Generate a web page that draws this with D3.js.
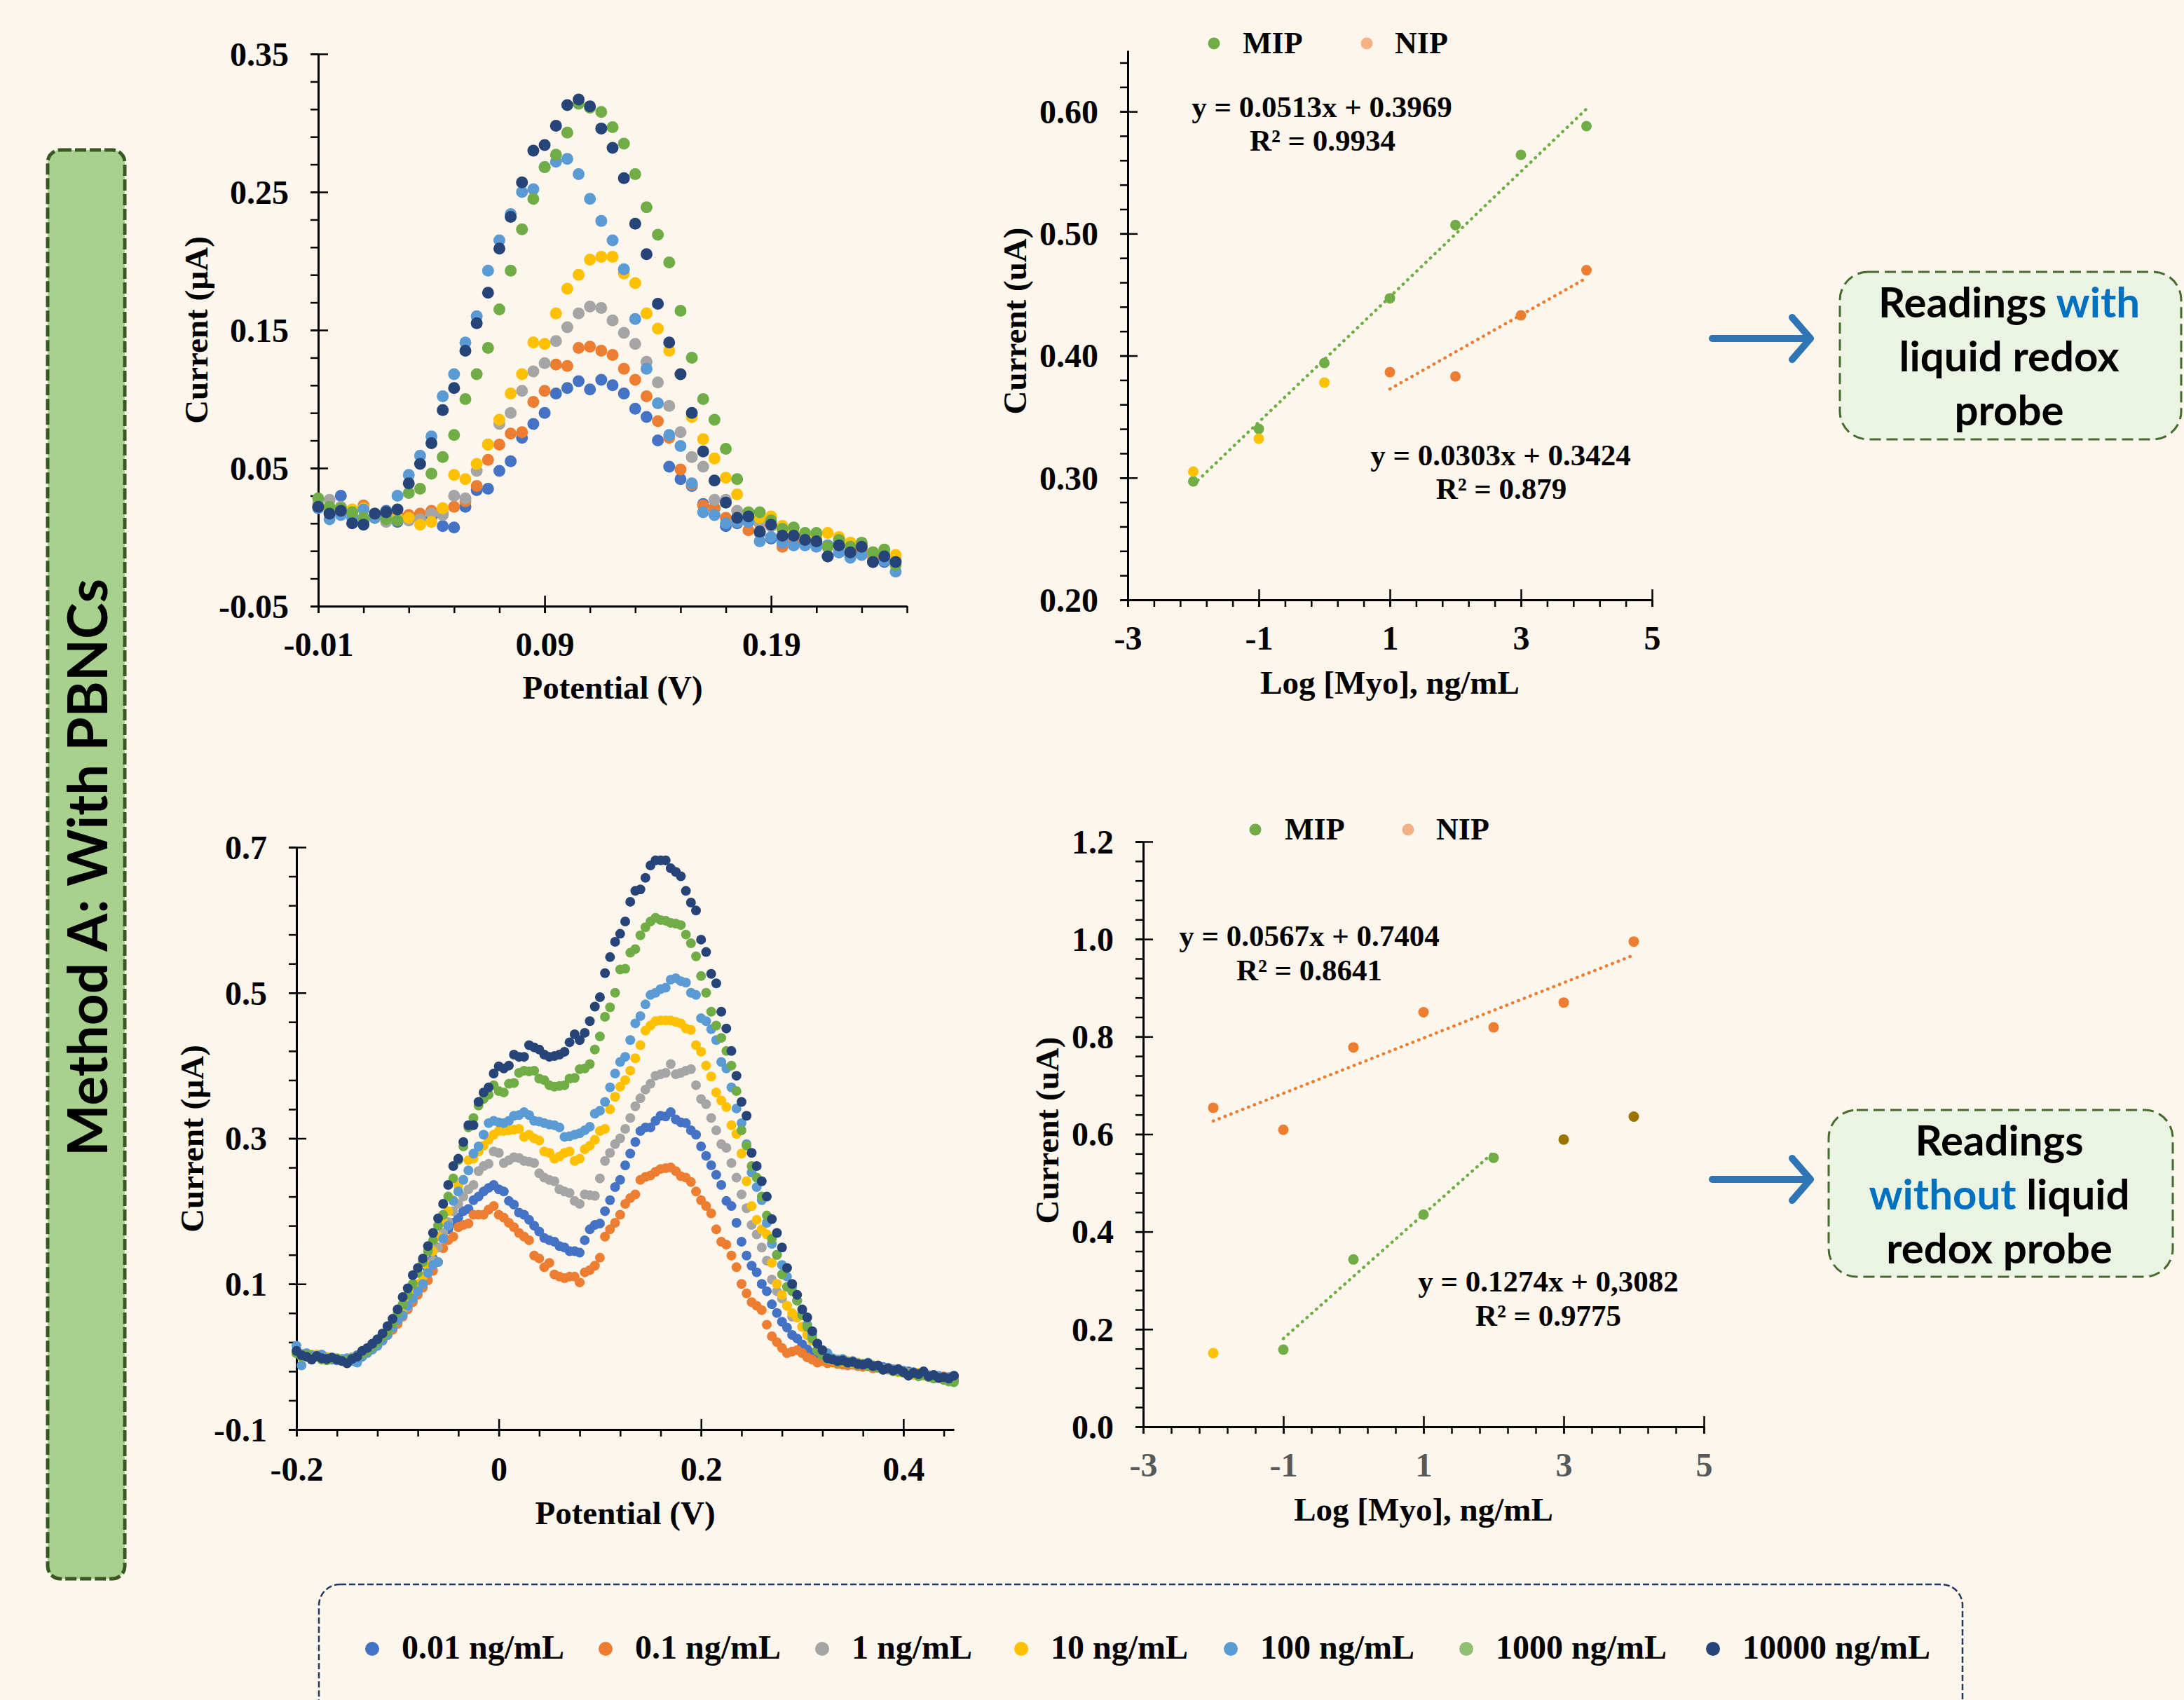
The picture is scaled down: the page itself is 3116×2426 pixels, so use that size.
<!DOCTYPE html>
<html>
<head>
<meta charset="utf-8">
<script src="https://cdn.jsdelivr.net/npm/d3@7"></script>
<style>
  body { margin: 0; background: #FDF6EC; }
</style>
</head>
<body>
<svg id="fig" width="3116" height="2426"></svg>
<script>
/* ----------------------- DATA -----------------------*/
// concentrations shared by both voltammogram panels
var concLabels = ["0.01 ng/mL", "0.1 ng/mL", "1 ng/mL", "10 ng/mL", "100 ng/mL", "1000 ng/mL", "10000 ng/mL"];
var concColors = ["#4472C4", "#ED7D31", "#A5A5A5", "#FFC000", "#5B9BD5", "#70AD47", "#264478"];
var legendColors = ["#4472C4", "#ED7D31", "#A5A5A5", "#FFC000", "#5B9BD5", "#93BF74", "#264478"];

// top left: DPV with liquid redox probe (potential in V)
var tlPotential = [
  -0.010,-0.005,0.000,0.005,0.010,0.015,0.020,0.025,0.030,0.035,
  0.040,0.045,0.050,0.055,0.060,0.065,0.070,0.075,0.080,0.085,
  0.090,0.095,0.100,0.105,0.110,0.115,0.120,0.125,0.130,0.135,
  0.140,0.145,0.150,0.155,0.160,0.165,0.170,0.175,0.180,0.185,
  0.190,0.195,0.200,0.205,0.210,0.215,0.220,0.225,0.230,0.235,
  0.240,0.245];
var tl001 = [
  0.022,0.018,0.030,0.017,0.011,0.014,0.019,0.011,0.014,0.013,
  0.014,0.008,0.007,0.022,0.034,0.035,0.048,0.055,0.072,0.082,
  0.090,0.104,0.108,0.113,0.107,0.114,0.110,0.104,0.093,0.087,
  0.070,0.051,0.042,0.037,0.024,0.021,0.008,0.010,0.011,0.003,
  -0.001,-0.001,-0.004,-0.004,-0.006,-0.014,-0.011,-0.014,-0.011,-0.018,
  -0.018,-0.018];
var tl01 = [
  0.022,0.021,0.021,0.019,0.023,0.014,0.014,0.016,0.016,0.017,
  0.019,0.017,0.022,0.026,0.037,0.056,0.067,0.075,0.076,0.098,
  0.106,0.125,0.124,0.137,0.138,0.135,0.132,0.122,0.114,0.102,
  0.084,0.072,0.049,0.038,0.023,0.021,0.014,0.011,0.005,0.010,
  0.008,-0.007,-0.003,-0.004,-0.003,-0.007,-0.004,-0.008,-0.009,-0.015,
  -0.017,-0.016];
var tl1 = [
  0.024,0.027,0.022,0.016,0.014,0.014,0.011,0.013,0.012,0.013,
  0.017,0.016,0.030,0.028,0.048,0.067,0.082,0.090,0.106,0.120,
  0.126,0.142,0.152,0.162,0.167,0.166,0.157,0.148,0.140,0.127,
  0.112,0.095,0.076,0.058,0.051,0.027,0.027,0.019,0.017,0.011,
  0.008,0.008,0.002,0.000,0.000,-0.006,-0.001,-0.007,-0.005,-0.011,
  -0.012,-0.017];
var tl10 = [
  0.022,0.021,0.021,0.020,0.021,0.014,0.014,0.014,0.014,0.009,
  0.011,0.021,0.045,0.042,0.053,0.067,0.085,0.104,0.118,0.141,
  0.140,0.162,0.180,0.190,0.201,0.203,0.203,0.191,0.184,0.162,
  0.151,0.135,0.118,0.087,0.071,0.057,0.043,0.031,0.017,0.014,
  0.015,0.008,0.003,0.000,-0.001,0.003,0.000,-0.004,-0.006,-0.011,
  -0.014,-0.013];
var tl100 = [
  0.021,0.013,0.016,0.014,0.020,0.014,0.014,0.030,0.045,0.059,
  0.073,0.102,0.118,0.141,0.160,0.193,0.215,0.234,0.250,0.252,
  0.268,0.272,0.274,0.263,0.245,0.229,0.215,0.194,0.158,0.122,
  0.097,0.074,0.066,0.039,0.018,0.016,0.010,0.011,0.011,-0.003,
  0.000,-0.004,-0.006,-0.006,-0.007,-0.006,-0.011,-0.015,-0.013,-0.018,
  -0.017,-0.025];
var tl1000 = [
  0.028,0.022,0.021,0.018,0.014,0.017,0.013,0.012,0.032,0.035,
  0.046,0.058,0.074,0.100,0.118,0.137,0.165,0.193,0.223,0.245,
  0.268,0.277,0.293,0.314,0.311,0.308,0.297,0.285,0.263,0.239,
  0.219,0.199,0.164,0.130,0.100,0.085,0.064,0.042,0.018,0.018,
  0.012,0.006,0.007,0.003,0.003,-0.007,-0.002,-0.007,-0.004,-0.011,
  -0.009,-0.020];
var tl10000 = [
  0.022,0.017,0.019,0.010,0.009,0.017,0.018,0.020,0.039,0.053,
  0.068,0.092,0.108,0.135,0.155,0.177,0.209,0.232,0.257,0.280,
  0.284,0.298,0.313,0.317,0.312,0.296,0.282,0.260,0.227,0.205,
  0.169,0.141,0.118,0.090,0.062,0.041,0.025,0.014,0.015,0.004,
  0.009,0.001,0.001,-0.002,-0.003,-0.014,-0.006,-0.011,-0.007,-0.018,
  -0.014,-0.018];

// bottom left: DPV without liquid redox probe
var blPotential = [
  -0.200,-0.195,-0.190,-0.185,-0.180,-0.175,-0.170,-0.165,-0.160,-0.155,
  -0.150,-0.145,-0.140,-0.135,-0.130,-0.125,-0.120,-0.115,-0.110,-0.105,
  -0.100,-0.095,-0.090,-0.085,-0.080,-0.075,-0.070,-0.065,-0.060,-0.055,
  -0.050,-0.045,-0.040,-0.035,-0.030,-0.025,-0.020,-0.015,-0.010,-0.005,
  0.000,0.005,0.010,0.015,0.020,0.025,0.030,0.035,0.040,0.045,
  0.050,0.055,0.060,0.065,0.070,0.075,0.080,0.085,0.090,0.095,
  0.100,0.105,0.110,0.115,0.120,0.125,0.130,0.135,0.140,0.145,
  0.150,0.155,0.160,0.165,0.170,0.175,0.180,0.185,0.190,0.195,
  0.200,0.205,0.210,0.215,0.220,0.225,0.230,0.235,0.240,0.245,
  0.250,0.255,0.260,0.265,0.270,0.275,0.280,0.285,0.290,0.295,
  0.300,0.305,0.310,0.315,0.320,0.325,0.330,0.335,0.340,0.345,
  0.350,0.355,0.360,0.365,0.370,0.375,0.380,0.385,0.390,0.395,
  0.400,0.405,0.410,0.415,0.420,0.425,0.430,0.435,0.440,0.445,
  0.450];
var bl001 = [
  0.005,0.004,0.003,0.001,0.000,-0.002,-0.002,-0.004,-0.005,-0.004,
  -0.003,-0.001,0.002,0.005,0.008,0.012,0.018,0.024,0.030,0.038,
  0.048,0.058,0.068,0.078,0.090,0.105,0.120,0.135,0.150,0.165,
  0.175,0.184,0.191,0.200,0.203,0.215,0.220,0.227,0.232,0.236,
  0.230,0.227,0.214,0.209,0.198,0.195,0.188,0.180,0.172,0.163,
  0.160,0.158,0.152,0.150,0.145,0.145,0.143,0.160,0.175,0.181,
  0.183,0.200,0.215,0.233,0.243,0.263,0.279,0.295,0.310,0.315,
  0.315,0.324,0.331,0.330,0.336,0.326,0.322,0.321,0.311,0.305,
  0.289,0.276,0.263,0.250,0.236,0.214,0.207,0.184,0.158,0.139,
  0.125,0.116,0.100,0.090,0.072,0.060,0.048,0.040,0.030,0.025,
  0.017,0.010,0.005,0.000,-0.002,-0.004,-0.005,-0.007,-0.006,-0.009,
  -0.008,-0.010,-0.012,-0.011,-0.013,-0.015,-0.014,-0.017,-0.019,-0.018,
  -0.021,-0.020,-0.023,-0.025,-0.024,-0.027,-0.026,-0.028,-0.030,-0.029,
  -0.031];
var bl01 = [
  0.005,0.004,0.003,0.001,0.000,-0.002,-0.002,-0.003,-0.003,-0.004,
  -0.005,-0.002,0.000,0.004,0.007,0.010,0.015,0.022,0.030,0.037,
  0.045,0.055,0.065,0.075,0.085,0.095,0.105,0.118,0.130,0.149,
  0.160,0.165,0.178,0.181,0.183,0.195,0.195,0.195,0.202,0.207,
  0.195,0.191,0.184,0.178,0.170,0.165,0.160,0.139,0.135,0.123,
  0.129,0.113,0.110,0.108,0.110,0.110,0.102,0.116,0.119,0.125,
  0.136,0.165,0.175,0.184,0.195,0.210,0.218,0.223,0.243,0.247,
  0.249,0.254,0.258,0.259,0.260,0.255,0.248,0.246,0.240,0.227,
  0.215,0.207,0.197,0.175,0.158,0.154,0.139,0.123,0.100,0.087,
  0.075,0.070,0.064,0.044,0.028,0.020,0.012,0.005,0.007,0.009,
  0.005,-0.001,-0.004,-0.008,-0.006,-0.009,-0.008,-0.010,-0.011,-0.012,
  -0.011,-0.013,-0.014,-0.013,-0.016,-0.015,-0.018,-0.017,-0.019,-0.021,
  -0.020,-0.022,-0.024,-0.023,-0.025,-0.027,-0.026,-0.028,-0.027,-0.029,
  -0.030];
var bl1 = [
  0.005,0.004,0.003,0.001,0.000,-0.002,-0.002,-0.003,-0.003,-0.004,
  -0.005,-0.001,0.000,0.004,0.008,0.012,0.018,0.025,0.032,0.040,
  0.050,0.060,0.068,0.080,0.090,0.100,0.115,0.132,0.150,0.170,
  0.185,0.200,0.210,0.220,0.230,0.236,0.255,0.262,0.265,0.282,
  0.280,0.266,0.270,0.274,0.273,0.269,0.268,0.266,0.252,0.246,
  0.243,0.241,0.230,0.227,0.225,0.214,0.210,0.223,0.222,0.221,
  0.245,0.269,0.280,0.292,0.300,0.313,0.328,0.344,0.355,0.367,
  0.375,0.386,0.388,0.390,0.402,0.388,0.390,0.393,0.395,0.373,
  0.354,0.347,0.328,0.311,0.292,0.287,0.266,0.246,0.223,0.204,
  0.181,0.168,0.150,0.132,0.106,0.090,0.080,0.070,0.055,0.054,
  0.041,0.030,0.022,0.009,0.003,-0.003,-0.004,-0.006,-0.005,-0.008,
  -0.009,-0.011,-0.010,-0.012,-0.014,-0.013,-0.016,-0.018,-0.017,-0.020,
  -0.021,-0.022,-0.024,-0.023,-0.026,-0.025,-0.028,-0.027,-0.029,-0.028,
  -0.030];
var bl10 = [
  0.005,0.000,0.002,0.003,0.003,-0.001,0.000,-0.002,-0.003,-0.004,
  -0.005,-0.002,0.000,0.004,0.008,0.013,0.020,0.027,0.035,0.045,
  0.055,0.065,0.075,0.088,0.100,0.110,0.125,0.145,0.165,0.185,
  0.200,0.215,0.235,0.243,0.270,0.272,0.282,0.290,0.298,0.305,
  0.310,0.310,0.311,0.312,0.313,0.302,0.305,0.300,0.297,0.282,
  0.280,0.272,0.275,0.280,0.282,0.269,0.272,0.285,0.290,0.298,
  0.310,0.313,0.340,0.357,0.371,0.380,0.393,0.410,0.428,0.448,
  0.455,0.461,0.462,0.462,0.462,0.460,0.458,0.451,0.449,0.428,
  0.419,0.400,0.385,0.363,0.352,0.343,0.318,0.306,0.279,0.241,
  0.207,0.188,0.175,0.168,0.129,0.100,0.085,0.070,0.060,0.054,
  0.041,0.030,0.022,0.009,0.005,-0.003,-0.005,-0.004,-0.007,-0.006,
  -0.009,-0.008,-0.011,-0.013,-0.012,-0.014,-0.017,-0.016,-0.019,-0.021,
  -0.020,-0.023,-0.025,-0.022,-0.026,-0.028,-0.027,-0.030,-0.029,-0.031,
  -0.030];
var bl100 = [
  0.015,-0.012,0.005,0.002,0.000,0.003,-0.002,-0.004,-0.005,-0.003,
  -0.002,-0.006,-0.008,0.000,0.005,0.010,0.015,0.022,0.030,0.040,
  0.050,0.057,0.070,0.080,0.090,0.100,0.115,0.126,0.130,0.162,
  0.180,0.214,0.227,0.243,0.256,0.279,0.289,0.305,0.321,0.324,
  0.322,0.321,0.324,0.331,0.332,0.336,0.332,0.324,0.323,0.321,
  0.319,0.318,0.315,0.302,0.303,0.305,0.307,0.311,0.316,0.334,
  0.338,0.350,0.370,0.389,0.405,0.412,0.435,0.458,0.468,0.484,
  0.497,0.500,0.505,0.507,0.518,0.520,0.516,0.514,0.500,0.497,
  0.465,0.461,0.450,0.435,0.405,0.396,0.370,0.341,0.321,0.292,
  0.253,0.233,0.215,0.184,0.155,0.140,0.126,0.110,0.096,0.077,
  0.060,0.044,0.030,0.018,0.008,0.005,-0.002,-0.004,-0.003,-0.007,
  -0.006,-0.009,-0.010,-0.008,-0.012,-0.013,-0.016,-0.015,-0.018,-0.020,
  -0.019,-0.023,-0.021,-0.026,-0.022,-0.027,-0.028,-0.026,-0.030,-0.028,
  -0.031];
var bl1000 = [
  0.005,0.000,0.003,-0.002,0.000,-0.004,-0.005,-0.003,-0.002,-0.006,
  -0.005,-0.002,0.000,0.004,0.008,0.014,0.020,0.028,0.035,0.046,
  0.060,0.072,0.085,0.100,0.115,0.130,0.145,0.160,0.180,0.195,
  0.220,0.245,0.270,0.289,0.315,0.328,0.345,0.354,0.360,0.373,
  0.365,0.363,0.375,0.376,0.390,0.393,0.392,0.393,0.382,0.380,
  0.373,0.371,0.372,0.373,0.382,0.383,0.395,0.396,0.402,0.422,
  0.440,0.467,0.480,0.500,0.532,0.533,0.555,0.560,0.579,0.590,
  0.598,0.603,0.600,0.599,0.596,0.595,0.593,0.580,0.568,0.550,
  0.523,0.500,0.474,0.455,0.438,0.420,0.400,0.365,0.311,0.290,
  0.262,0.246,0.220,0.194,0.162,0.140,0.113,0.096,0.090,0.077,
  0.057,0.041,0.025,0.009,0.002,-0.003,-0.004,-0.007,-0.006,-0.009,
  -0.008,-0.011,-0.010,-0.013,-0.012,-0.015,-0.017,-0.016,-0.020,-0.019,
  -0.022,-0.024,-0.023,-0.027,-0.025,-0.028,-0.030,-0.029,-0.032,-0.034,
  -0.035];
var bl10000 = [
  0.008,0.002,0.000,-0.004,0.001,-0.002,-0.003,-0.001,-0.004,-0.006,
  -0.009,-0.003,0.000,0.008,0.012,0.018,0.024,0.032,0.042,0.052,
  0.065,0.082,0.094,0.112,0.122,0.135,0.152,0.170,0.190,0.210,
  0.236,0.262,0.272,0.295,0.318,0.318,0.350,0.363,0.370,0.389,
  0.399,0.396,0.400,0.415,0.412,0.412,0.428,0.425,0.422,0.415,
  0.412,0.413,0.415,0.419,0.432,0.443,0.435,0.445,0.461,0.481,
  0.494,0.527,0.549,0.570,0.581,0.598,0.625,0.640,0.642,0.658,
  0.675,0.682,0.682,0.682,0.671,0.666,0.660,0.640,0.624,0.613,
  0.573,0.556,0.526,0.513,0.474,0.451,0.420,0.386,0.350,0.331,
  0.280,0.262,0.241,0.220,0.189,0.170,0.150,0.122,0.100,0.085,
  0.065,0.054,0.035,0.018,0.009,-0.002,-0.004,-0.006,-0.005,-0.008,
  -0.007,-0.010,-0.011,-0.009,-0.013,-0.012,-0.018,-0.016,-0.019,-0.017,
  -0.021,-0.026,-0.022,-0.024,-0.020,-0.027,-0.025,-0.029,-0.028,-0.030,
  -0.026];

var tlSeries = [tl001, tl01, tl1, tl10, tl100, tl1000, tl10000];
var blSeries = [bl001, bl01, bl1, bl10, bl100, bl1000, bl10000];

// top right: calibration with liquid redox probe
var trMipLog = [-2, -1, 0, 1, 2, 3, 4];
var trMip = [0.297, 0.340, 0.394, 0.447, 0.507, 0.5645, 0.588];
var trMipYellowLog = [-2, -1, 0];
var trMipYellow = [0.305, 0.332, 0.378];
var trNipLog = [1, 2, 3, 4];
var trNip = [0.3865, 0.383, 0.433, 0.470];
var trMipFit = [0.0513, 0.3969, -2, 4];   // slope, intercept, from, to
var trNipFit = [0.0303, 0.3424, 1, 4];

// bottom right: calibration without liquid redox probe
var brNipLog = [-2, -1, 0, 1, 2, 3, 4];
var brNip = [0.654, 0.609, 0.778, 0.850, 0.819, 0.870, 0.995];
var brMipLog = [-1, 0, 1, 2];
var brMip = [0.158, 0.343, 0.435, 0.5515];
var brYellowLog = [-2];
var brYellow = [0.151];
var brOliveLog = [3, 4];
var brOlive = [0.589, 0.636];
var brNipFit = [0.0567, 0.7404, -2, 4];
var brMipFit = [0.1274, 0.3082, -1, 2];

// tick labels
var tlXTicks = [-0.01, 0.09, 0.19];
var tlYTicks = [-0.05, 0.05, 0.15, 0.25, 0.35];
var blXTicks = [-0.2, 0, 0.2, 0.4];
var blYTicks = [-0.1, 0.1, 0.3, 0.5, 0.7];
var calXTicks = [-3, -1, 1, 3, 5];
var trYTicks = [0.2, 0.3, 0.4, 0.5, 0.6];
var brYTicks = [0, 0.2, 0.4, 0.6, 0.8, 1.0, 1.2];

/* ----------------------- DRAWING -----------------------*/
var SERIF = "'Liberation Serif', 'Times New Roman', serif";
var SANS = "Lato, 'Open Sans', sans-serif";
var svg = d3.select("#fig");

svg.append("rect").attr("width", 3116).attr("height", 2426).attr("fill", "#FDF6EC");

function txt(parent, x, y, s, size, anchor, color) {
  return parent.append("text")
    .attr("x", x).attr("y", y)
    .attr("font-family", SERIF).attr("font-weight", "bold")
    .attr("font-size", size).attr("text-anchor", anchor || "middle")
    .attr("fill", color || "#000")
    .text(s);
}

function panel(o) {
  var x = d3.scaleLinear().domain(o.xDomain).range(o.xRange);
  var y = d3.scaleLinear().domain(o.yDomain).range(o.yRange);
  var g = svg.append("g");
  var y0 = o.yRange[0], x0 = o.xRange[0];

  // y axis: minor ticks outside, major ticks crossing
  var ym = g.append("g").attr("transform", "translate(" + x0 + ",0)")
    .call(d3.axisLeft(y).tickValues(o.yMinor).tickSize(11).tickSizeOuter(0).tickFormat(""));
  ym.select(".domain").remove();
  var yM = g.append("g").attr("transform", "translate(" + x0 + ",0)")
    .call(d3.axisLeft(y).tickValues(o.yMajor).tickSize(11).tickSizeOuter(0).tickFormat(o.yFmt));
  yM.selectAll(".tick line").attr("x1", 14);
  yM.selectAll(".tick text").attr("x", -42).attr("dy", "0.34em").attr("fill", "#000");

  var xm = g.append("g").attr("transform", "translate(0," + y0 + ")")
    .call(d3.axisBottom(x).tickValues(o.xMinor).tickSize(10).tickSizeOuter(0).tickFormat(""));
  xm.select(".domain").remove();
  var xM = g.append("g").attr("transform", "translate(0," + y0 + ")")
    .call(d3.axisBottom(x).tickValues(o.xMajor).tickSize(10).tickSizeOuter(0).tickFormat(o.xFmt));
  xM.selectAll(".tick line").attr("y1", -15);
  xM.selectAll(".tick text").attr("y", o.xLabelY).attr("dy", null).attr("fill", o.xLabelColor || "#000");

  g.selectAll(".domain").attr("stroke", "#000").attr("stroke-width", 3);
  g.selectAll(".tick line").attr("stroke", "#000").attr("stroke-width", 2.5);
  g.selectAll(".tick text").attr("font-size", 48).attr("font-family", SERIF).attr("font-weight", "bold");

  // axis titles
  txt(g, (o.xRange[0] + o.xRange[1]) / 2, o.xTitleY, o.xTitle, 47);
  txt(g, 0, 0, o.yTitle, 47)
    .attr("transform", "translate(" + o.yTitleX + "," + o.yTitleCY + ") rotate(-90)");

  return {x: x, y: y, g: g};
}

function dots(p, xs, ys, color, r) {
  var pts = ys.map(function(v, i) { return [xs[i], v]; })
    .filter(function(d) { return d[0] !== undefined; });
  p.g.append("g").selectAll("circle").data(pts).join("circle")
    .attr("cx", function(d) { return p.x(d[0]); })
    .attr("cy", function(d) { return p.y(d[1]); })
    .attr("r", r).attr("fill", color);
}

function trend(p, fit, color) {
  var m = fit[0], b = fit[1], a0 = fit[2], a1 = fit[3];
  p.g.append("line")
    .attr("x1", p.x(a0)).attr("y1", p.y(m * a0 + b))
    .attr("x2", p.x(a1)).attr("y2", p.y(m * a1 + b))
    .attr("stroke", color).attr("stroke-width", 4.5)
    .attr("stroke-dasharray", "0.5,8.5").attr("stroke-linecap", "round");
}

function fmt2(d) { return d.toFixed(2); }
function fmt1(d) { return d.toFixed(1); }
function fmtShort(d) { return String(+d.toFixed(2)); }

/* ---- left label box ---- */
svg.append("rect").attr("x", 68).attr("y", 214).attr("width", 110).attr("height", 2039)
  .attr("rx", 18).attr("fill", "#A9D18E")
  .attr("stroke", "#385723").attr("stroke-width", 5).attr("stroke-dasharray", "16,5");
svg.append("text")
  .attr("transform", "translate(153,1238) rotate(-90)")
  .attr("text-anchor", "middle").attr("font-family", SANS).attr("font-weight", "bold")
  .attr("font-size", 78).attr("fill", "#000")
  .text("Method A: With PBNCs");

/* ---- top left ---- */
var pTL = panel({
  xDomain: [-0.01, 0.25], xRange: [454, 1294],
  yDomain: [-0.05, 0.35], yRange: [865, 77],
  xMinor: d3.range(-0.01, 0.2501, 0.02), xMajor: tlXTicks, xFmt: fmt2,
  yMinor: d3.range(-0.05, 0.3501, 0.02), yMajor: tlYTicks, yFmt: fmt2,
  xLabelY: 71, xTitle: "Potential (V)", xTitleY: 997,
  yTitle: "Current (\u00B5A)", yTitleX: 296, yTitleCY: 471
});
tlSeries.forEach(function(s, i) { dots(pTL, tlPotential, s, concColors[i], 8.5); });

/* ---- bottom left ---- */
var pBL = panel({
  xDomain: [-0.2, 0.45], xRange: [423, 1361],
  yDomain: [-0.1, 0.7], yRange: [2040, 1209],
  xMinor: d3.range(-0.2, 0.4401, 0.04), xMajor: blXTicks, xFmt: fmtShort,
  yMinor: d3.range(-0.1, 0.7001, 0.04), yMajor: blYTicks, yFmt: fmt1,
  xLabelY: 73, xTitle: "Potential (V)", xTitleY: 2175,
  yTitle: "Current (\u00B5A)", yTitleX: 290, yTitleCY: 1625
});
blSeries.forEach(function(s, i) { dots(pBL, blPotential, s, concColors[i], 7); });

/* ---- top right ---- */
var pTR = panel({
  xDomain: [-3, 5], xRange: [1609, 2357],
  yDomain: [0.2, 0.65], yRange: [856, 72],
  xMinor: d3.range(-3, 5.01, 0.4), xMajor: calXTicks, xFmt: fmtShort,
  yMinor: d3.range(0.2, 0.6401, 0.02), yMajor: trYTicks, yFmt: fmt2,
  xLabelY: 71, xTitle: "Log [Myo], ng/mL", xTitleY: 990,
  yTitle: "Current (uA)", yTitleX: 1464, yTitleCY: 458
});
trend(pTR, trMipFit, "#70AD47");
trend(pTR, trNipFit, "#ED7D31");
dots(pTR, trMipLog, trMip, "#70AD47", 7.5);
dots(pTR, trMipYellowLog, trMipYellow, "#FFC000", 7.5);
dots(pTR, trNipLog, trNip, "#ED7D31", 7.5);

svg.append("circle").attr("cx", 1732).attr("cy", 62).attr("r", 8.5).attr("fill", "#70AD47");
svg.append("circle").attr("cx", 1950).attr("cy", 62).attr("r", 8.5).attr("fill", "#F4B183");
txt(svg, 1773, 76, "MIP", 44, "start");
txt(svg, 1990, 76, "NIP", 44, "start");
txt(svg, 1886, 167, "y = 0.0513x + 0.3969", 43);
txt(svg, 1887, 215, "R\u00B2 = 0.9934", 43);
txt(svg, 2141, 664, "y = 0.0303x + 0.3424", 43);
txt(svg, 2142, 712, "R\u00B2 = 0.879", 43);

/* ---- bottom right ---- */
var pBR = panel({
  xDomain: [-3, 5], xRange: [1631, 2431],
  yDomain: [0, 1.2], yRange: [2036, 1201],
  xMinor: d3.range(-3, 5.01, 0.4), xMajor: calXTicks, xFmt: fmtShort,
  yMinor: d3.range(0, 1.2001, 0.04), yMajor: brYTicks, yFmt: fmt1,
  xLabelY: 71, xLabelColor: "#595959", xTitle: "Log [Myo], ng/mL", xTitleY: 2170,
  yTitle: "Current (uA)", yTitleX: 1510, yTitleCY: 1613
});
trend(pBR, brNipFit, "#ED7D31");
trend(pBR, brMipFit, "#70AD47");
dots(pBR, brNipLog, brNip, "#ED7D31", 7.5);
dots(pBR, brMipLog, brMip, "#70AD47", 7.5);
dots(pBR, brYellowLog, brYellow, "#FFC000", 7.5);
dots(pBR, brOliveLog, brOlive, "#9A7600", 7.5);

svg.append("circle").attr("cx", 1791).attr("cy", 1184).attr("r", 8.5).attr("fill", "#70AD47");
svg.append("circle").attr("cx", 2009).attr("cy", 1184).attr("r", 8.5).attr("fill", "#F4B183");
txt(svg, 1833, 1198, "MIP", 44, "start");
txt(svg, 2049, 1198, "NIP", 44, "start");
txt(svg, 1868, 1350, "y = 0.0567x + 0.7404", 43);
txt(svg, 1868, 1399, "R\u00B2 = 0.8641", 43);
txt(svg, 2209, 1843, "y = 0.1274x + 0,3082", 43);
txt(svg, 2209, 1892, "R\u00B2 = 0.9775", 43);

/* ---- right side notes ---- */
function arrow(y) {
  var a = svg.append("g").attr("stroke", "#2E75B6").attr("stroke-width", 10)
    .attr("stroke-linecap", "round").attr("stroke-linejoin", "round").attr("fill", "none");
  a.append("line").attr("x1", 2443).attr("y1", y).attr("x2", 2580).attr("y2", y);
  a.append("polyline").attr("points", [[2557, y - 30], [2583, y], [2557, y + 30]].join(" "));
}
function note(x, y, w, h, lines) {
  svg.append("rect").attr("x", x).attr("y", y).attr("width", w).attr("height", h)
    .attr("rx", 40).attr("fill", "#EBF4E3")
    .attr("stroke", "#476A2E").attr("stroke-width", 3).attr("stroke-dasharray", "16,8");
  lines.forEach(function(parts, i) {
    var t = svg.append("text").attr("x", x + w / 2 - 2).attr("y", y + 65 + i * 77)
      .attr("text-anchor", "middle").attr("font-family", SANS).attr("font-weight", "bold")
      .attr("font-size", 60);
    parts.forEach(function(p) {
      t.append("tspan").attr("fill", p[1] ? "#0070C0" : "#000").text(p[0]);
    });
  });
}
arrow(483);
note(2625, 388, 487, 239, [[["Readings "], ["with", 1]], [["liquid redox"]], [["probe"]]]);
arrow(1683);
note(2609, 1584, 491, 238, [[["Readings"]], [["without", 1], [" liquid"]], [["redox probe"]]]);

/* ---- concentration legend ---- */
svg.append("rect").attr("x", 455).attr("y", 2261).attr("width", 2345).attr("height", 220)
  .attr("rx", 30).attr("fill", "none")
  .attr("stroke", "#1F3864").attr("stroke-width", 2.5).attr("stroke-dasharray", "9,4");
var legX = [531, 864, 1173, 1457, 1756, 2092, 2444];
concLabels.forEach(function(l, i) {
  svg.append("circle").attr("cx", legX[i]).attr("cy", 2353).attr("r", 10).attr("fill", legendColors[i]);
  txt(svg, legX[i] + 42, 2367, l, 48, "start");
});
</script>
</body>
</html>
